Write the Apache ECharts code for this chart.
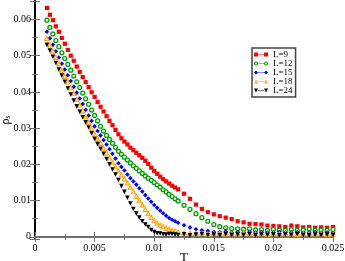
<!DOCTYPE html>
<html>
<head>
<meta charset="utf-8">
<script src="https://cdn.jsdelivr.net/npm/echarts@6/dist/echarts.min.js"></script>
<style>html,body{margin:0;padding:0;background:#fff}#c{width:345px;height:261px}</style>
</head>
<body>
<div id="c"></div>
<script>
var T = [0.001,0.00125,0.0015,0.00175,0.002,0.00225,0.0025,0.00275,0.003,0.00325,0.0035,0.00375,0.004,0.00425,0.0045,0.00475,0.005,0.00525,0.0055,0.00575,0.006,0.00625,0.0065,0.00675,0.007,0.00725,0.0075,0.00775,0.008,0.00825,0.0085,0.00875,0.009,0.00925,0.0095,0.00975,0.010,0.01025,0.0105,0.01075,0.011,0.01125,0.0115,0.01175,0.012,
  0.0125,0.013,0.0135,0.014,0.0145,0.015,0.0155,0.016,0.0165,0.017,0.0175,0.018,0.0185,0.019,0.0195,0.020,0.0205,0.021,0.0215,0.022,0.0225,0.023,0.0235,0.024,0.0245,0.025];
var L9 = [0.0632,0.0613,0.0598,0.0581,0.0566,0.0549,0.0533,0.0516,0.0500,0.0486,0.0470,0.0455,0.0441,0.0427,0.0413,0.0399,0.0386,0.0372,0.0359,0.0346,0.0333,0.0320,0.0308,0.0295,0.0283,0.0272,0.0263,0.0255,0.0246,0.0239,0.0232,0.0225,0.0218,0.0210,0.0201,0.0191,0.0182,0.0174,0.0166,0.0159,0.0153,0.0147,0.0141,0.0136,0.0131,
  0.0119,0.0105,0.0089,0.0077,0.0068,0.0062,0.0057,0.0053,0.0049,0.0043,0.0040,0.0036,0.0035,0.0034,0.0031,0.0030,0.0029,0.0027,0.0031,0.0029,0.0026,0.0027,0.0025,0.0026,0.0025,0.0027];
var L12 = [0.0598,0.0578,0.0560,0.0542,0.0525,0.0508,0.0492,0.0476,0.0460,0.0444,0.0428,0.0412,0.0397,0.0381,0.0366,0.0350,0.0335,0.0320,0.0305,0.0292,0.0280,0.0269,0.0258,0.0247,0.0236,0.0228,0.0220,0.0212,0.0204,0.0196,0.0189,0.0182,0.0175,0.0168,0.0162,0.0156,0.0150,0.0143,0.0137,0.0130,0.0124,0.0117,0.0111,0.0105,0.0099,
  0.0087,0.0076,0.0064,0.0053,0.0043,0.0034,0.0028,0.0025,0.0023,0.0022,0.0021,0.0022,0.0019,0.0020,0.0018,0.0021,0.0019,0.0018,0.0020,0.0018,0.0019,0.0021,0.0018,0.0019,0.0018,0.0020];
var L15 = [0.0566,0.0548,0.0530,0.0512,0.0495,0.0478,0.0462,0.0446,0.0430,0.0414,0.0398,0.0382,0.0367,0.0351,0.0335,0.0320,0.0305,0.0292,0.0280,0.0267,0.0255,0.0242,0.0229,0.0216,0.0203,0.0193,0.0183,0.0172,0.0162,0.0153,0.0144,0.0134,0.0125,0.0115,0.0106,0.0097,0.0088,0.0080,0.0072,0.0065,0.0058,0.0052,0.0047,0.0043,0.0039,
  0.0032,0.0026,0.0021,0.0018,0.0016,0.0014,0.0013,0.0015,0.0012,0.0013,0.0011,0.0014,0.0012,0.0013,0.0011,0.0012,0.0014,0.0011,0.0012,0.0013,0.0011,0.0012,0.0013,0.0011,0.0012,0.0011];
var L18 = [0.0548,0.0530,0.0513,0.0495,0.0478,0.0460,0.0443,0.0428,0.0412,0.0396,0.0380,0.0364,0.0348,0.0332,0.0316,0.0299,0.0283,0.0270,0.0258,0.0245,0.0232,0.0218,0.0205,0.0193,0.0182,0.0171,0.0160,0.0149,0.0137,0.0125,0.0112,0.0100,0.0088,0.0076,0.0064,0.0054,0.0045,0.0038,0.0032,0.0028,0.0024,0.0021,0.0018,0.0016,0.0014,
  0.0011,0.0010,0.0009,0.0010,0.0008,0.0009,0.0010,0.0008,0.0009,0.0008,0.0010,0.0009,0.0008,0.0009,0.0007,0.0009,0.0008,0.0009,0.0008,0.0007,0.0009,0.0008,0.0008,0.0009,0.0007,0.0008];
var L24 = [0.0530,0.0514,0.0497,0.0480,0.0462,0.0445,0.0428,0.0410,0.0393,0.0376,0.0360,0.0345,0.0330,0.0316,0.0302,0.0286,0.0270,0.0256,0.0243,0.0229,0.0215,0.0200,0.0186,0.0172,0.0157,0.0140,0.0124,0.0108,0.0092,0.0077,0.0064,0.0053,0.0043,0.0034,0.0027,0.0019,0.0013,0.0010,0.0009,0.0007,0.0006,0.0008,0.0008,0.0006,0.0005,
  0.0007,0.0004,0.0006,0.0008,0.0005,0.0006,0.0004,0.0007,0.0005,0.0006,0.0005,0.0007,0.0004,0.0006,0.0005,0.0006,0.0004,0.0006,0.0005,0.0007,0.0005,0.0004,0.0006,0.0005,0.0006,0.0005];
var names = ['L=9','L=12','L=15','L=18','L=24'];
var xTicks = [0, 0.025, 0.005];
var yTicks = [-0.0006, 0.0651, 0.01];

var FONT = 'Liberation Serif';
var AX = '#707070';
function pairs(v){ return T.map(function(t,i){ return [t, v[i]]; }); }
var icons = {
  'L=9':  'path://M0,0h4v4h-4zM10,0h4v4h-4zM4,1.8h6v0.4h-6z',
  'L=12': 'path://M0,2a2,2 0 1,1 4,0a2,2 0 1,1 -4,0zM1.1,2a0.9,0.9 0 1,0 1.8,0a0.9,0.9 0 1,0 -1.8,0zM10,2a2,2 0 1,1 4,0a2,2 0 1,1 -4,0zM11.1,2a0.9,0.9 0 1,0 1.8,0a0.9,0.9 0 1,0 -1.8,0zM4,1.8h6v0.4h-6z',
  'L=15': 'path://M2,0L4,2L2,4L0,2zM12,0L14,2L12,4L10,2zM4,1.8h6v0.4h-6z',
  'L=18': 'path://M2,0L4,4L0,4zM2,2L1.4,3.3L2.6,3.3zM12,0L14,4L10,4zM12,2L11.4,3.3L12.6,3.3zM4,1.8h6v0.4h-6z',
  'L=24': 'path://M0,0L4,0L2,4zM10,0L14,0L12,4zM4,1.8h6v0.4h-6z'
};
var colors = ['#ff0000','#00a000','#0000ff','#ffa500','#000000'];
var fills  = ['#ff0000','#ffffff','#0000ff','#ffe2a8','#000000'];
var borders = [0,1.3,0,1,0];
var symbols = ['rect','circle','diamond','triangle','triangle'];
var sizes = [4.2,3.9,4.6,4.3,4.6];
var rot = [0,0,0,0,180];
var vals = [L9,L12,L15,L18,L24];

function yFmt(v){ var r = Math.round(v*100)/100; return Math.abs(v-r) < 1e-9 ? String(r) : ''; }

var series = names.map(function(n,i){
  return {
    name: n, type: 'line', data: pairs(vals[i]),
    symbol: symbols[i], symbolSize: sizes[i], symbolRotate: rot[i],
    showAllSymbol: true,
    itemStyle: {color: fills[i], borderColor: colors[i], borderWidth: borders[i]},
    lineStyle: {color: colors[i], width: 0.5, type: 'dotted', opacity: 0.6},
    emphasis: {disabled: true},
    z: 2 + i
  };
});

var chart = echarts.init(document.getElementById('c'), null, {renderer:'canvas'});
chart.setOption({
  animation: false,
  backgroundColor: '#fff',
  grid: {left: 35, right: 12, top: 1, bottom: 22, containLabel: false, outerBoundsMode: 'none'},
  legend: {
    orient: 'vertical', left: 252, top: 48,
    padding: [2,3,2,2], itemGap: 0, itemWidth: 14, itemHeight: 4.5, itemTextGap: 3,
    borderColor: '#444', borderWidth: 1.5, backgroundColor: '#fff',
    textStyle: {fontFamily: FONT, fontSize: 9, color: '#000', lineHeight: 8.3},
    data: names.map(function(n,i){ return {name: n, icon: icons[n], itemStyle: {color: colors[i], borderWidth: 0}}; })
  },
  xAxis: [{
    type: 'value', position: 'bottom', min: xTicks[0], max: xTicks[1], interval: xTicks[2],
    axisLine: {lineStyle: {color: AX, width: 2}},
    axisTick: {inside: true, length: 5, lineStyle: {color: AX, width: 1}},
    minorTick: {show: true, splitNumber: 2, length: 3, lineStyle: {color: AX, width: 1}},
    splitLine: {show: false},
    axisLabel: {fontFamily: FONT, fontSize: 10, color: '#000', margin: 4},
    name: 'T', nameLocation: 'middle', nameGap: 12, nameMoveOverlap: false,
    nameTextStyle: {fontFamily: FONT, fontSize: 13, color: '#000'}
  },{
    type: 'value', position: 'top', min: xTicks[0], max: xTicks[1], interval: xTicks[2],
    axisLine: {lineStyle: {color: AX, width: 2}},
    axisTick: {inside: true, length: 5, lineStyle: {color: AX, width: 1}},
    minorTick: {show: true, splitNumber: 2, length: 3, lineStyle: {color: AX, width: 1}},
    splitLine: {show: false}, axisLabel: {show: false}
  }],
  yAxis: [{
    type: 'value', position: 'left', min: yTicks[0], max: yTicks[1], minInterval: yTicks[2], maxInterval: yTicks[2],
    axisLine: {show: true, lineStyle: {color: AX, width: 2}},
    axisTick: {show: true, inside: true, length: 5, lineStyle: {color: AX, width: 1}},
    minorTick: {show: true, splitNumber: 2, length: 3, lineStyle: {color: AX, width: 1}},
    splitLine: {show: false},
    axisLabel: {fontFamily: FONT, fontSize: 10, color: '#000', margin: 4, formatter: yFmt},
    name: '{a|ρ}{b|s}', nameLocation: 'middle', nameGap: 23, nameRotate: 90, nameMoveOverlap: false,
    nameTextStyle: {rich: {a: {fontFamily: FONT, fontSize: 12, color: '#000'}, b: {fontFamily: FONT, fontSize: 8, color: '#000', padding: [5,0,0,0]}}}
  },{
    type: 'value', position: 'right', min: yTicks[0], max: yTicks[1], minInterval: yTicks[2], maxInterval: yTicks[2],
    axisLine: {show: true, lineStyle: {color: '#000', width: 2}},
    axisTick: {show: true, inside: true, length: 5, lineStyle: {color: AX, width: 1}},
    minorTick: {show: true, splitNumber: 2, length: 3, lineStyle: {color: AX, width: 1}},
    splitLine: {show: false}, axisLabel: {show: false}
  }],
  series: series
});
</script>
</body>
</html>
